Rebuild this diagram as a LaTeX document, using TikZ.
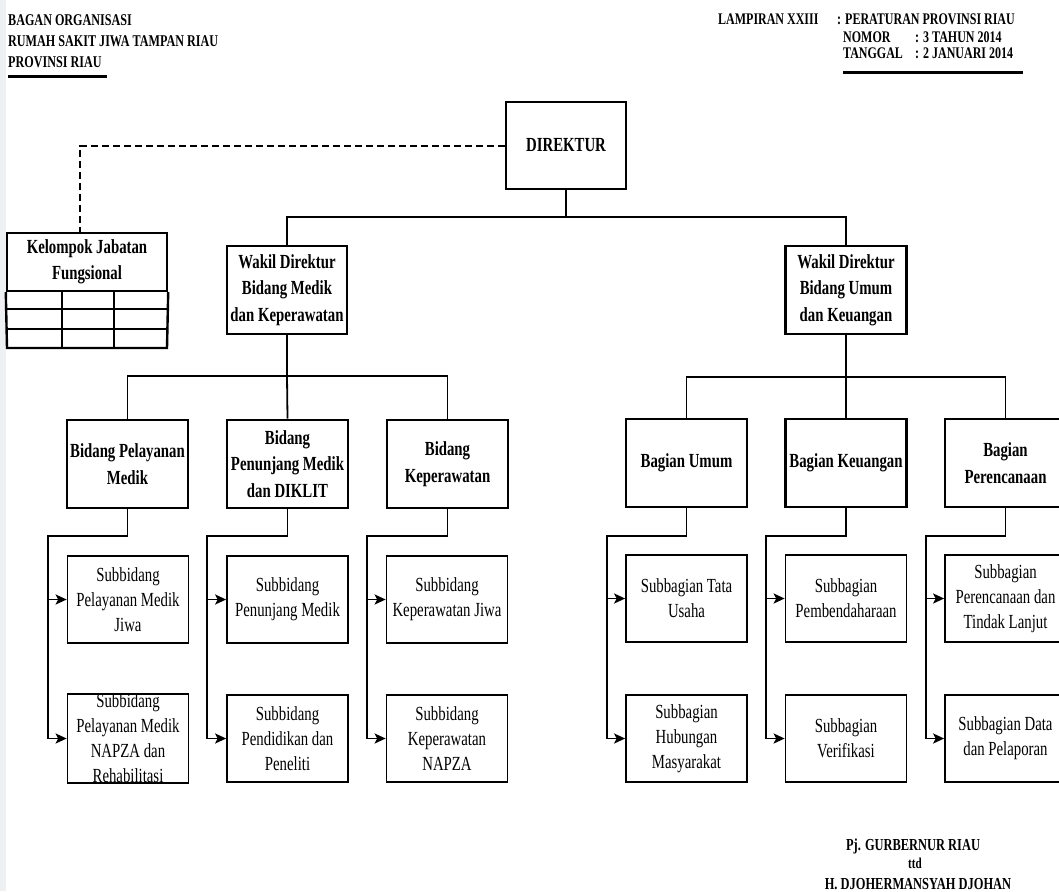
\documentclass[tikz,border=0pt]{standalone}
\usepackage{fontspec}
\setmainfont{Liberation Serif}[FakeStretch=0.74]
\usetikzlibrary{arrows.meta,calc}
\definecolor{strip}{RGB}{239,240,243}
\begin{document}
\begin{tikzpicture}[x=1pt,y=-1pt,
  bigbox/.style={draw, line width=2.7pt, minimum width=121pt, minimum height=88pt, inner sep=0pt, align=center, font=\bfseries\fontsize{20}{26.5}\selectfont},
  subbox/.style={draw, line width=1.7pt, minimum width=121pt, minimum height=87pt, inner sep=0pt, align=center, font=\fontsize{20}{25}\selectfont},
  conn/.style={line width=1.8pt},
  arr/.style={conn, -{Stealth[length=11pt,width=10pt,inset=2.5pt]}},
  dashline/.style={line width=2pt, dash pattern=on 7pt off 4pt},
  hdr/.style={inner sep=0pt, font=\bfseries\fontsize{16.4}{20}\selectfont},
  rhdr/.style={inner sep=0pt, font=\bfseries\fontsize{16.2}{17}\selectfont},
  sig/.style={inner sep=0pt, font=\bfseries\fontsize{16.8}{19}\selectfont, anchor=base}
]
\useasboundingbox (0,0) rectangle (1059,891);
\clip (0,0) rectangle (1059,891);
\fill[white] (0,0) rectangle (1059,891);
\fill[strip] (0,0) rectangle (6,891);

% header left
\node[hdr, anchor=base west] (h1) at (8,26) {BAGAN ORGANISASI};
\node[hdr, anchor=base west] (h2) at (8,47) {RUMAH SAKIT JIWA TAMPAN RIAU};
\node[hdr, anchor=base west] (h3) at (8,67) {PROVINSI RIAU};
\draw[line width=3pt] (8,76) -- (107,76);

% header right
\node[rhdr, anchor=base west] (r1) at (718,25) {LAMPIRAN XXIII};
\node[rhdr, anchor=base west] (r2) at (837,25) {: PERATURAN PROVINSI RIAU};
\node[rhdr, anchor=base west] (r3) at (843,42) {NOMOR};
\node[rhdr, anchor=base west] (r4) at (915,42) {: 3 TAHUN 2014};
\node[rhdr, anchor=base west] (r5) at (843,59) {TANGGAL};
\node[rhdr, anchor=base west] (r6) at (915,59) {: 2 JANUARI 2014};
\draw[line width=3pt] (843,72) -- (1023,72);

% top
\node[bigbox, minimum width=120pt, minimum height=87pt] (dir) at (566,145.5) {DIREKTUR};
\node[bigbox, minimum width=120pt] (wkL) at (287,290) {Wakil Direktur\\Bidang Medik\\dan Keperawatan};
\node[bigbox] (wkR) at (846,290) {Wakil Direktur\\Bidang Umum\\dan Keuangan};

% kelompok jabatan fungsional
\node[draw, line width=2.4pt, minimum width=160pt, minimum height=58pt, inner sep=0pt, align=center,
  font=\bfseries\fontsize{20}{26.5}\selectfont] (kjf) at (87,262) {Kelompok Jabatan\\Fungsional};
\draw[line width=2.4pt] (kjf.south west) -- (7,348) -- (167,348) -- (kjf.south east);
\draw[line width=2.4pt] (7,309) -- (167,309) (7,329) -- (167,329)
  (62,291) -- (62,348) (114,291) -- (114,348);
\coordinate (kjftop) at (80,233);
\draw[dashline] (dir.west) -| (kjftop);

% bidang row
\node[bigbox] (bpm) at (127.5,464) {Bidang Pelayanan\\Medik};
\node[bigbox] (bpn) at (287.5,464) {Bidang\\Penunjang Medik\\dan DIKLIT};
\node[bigbox] (bkp) at (447.5,464) {Bidang\\Keperawatan};
\node[bigbox] (bu) at (686.5,463) {Bagian Umum};
\node[bigbox] (bk) at (846,463) {Bagian Keuangan};
\node[bigbox] (bpr) at (1005.5,463) {Bagian\\Perencanaan};

% sub boxes
\node[subbox] (s11) at (128,599.5) {Subbidang\\Pelayanan Medik\\Jiwa};
\node[subbox] (s12) at (128,738.5) {Subbidang\\Pelayanan Medik\\NAPZA dan\\Rehabilitasi};
\node[subbox] (s21) at (287.5,599.5) {Subbidang\\Penunjang Medik};
\node[subbox] (s22) at (287.5,738.5) {Subbidang\\Pendidikan dan\\Peneliti};
\node[subbox] (s31) at (447,599.5) {Subbidang\\Keperawatan Jiwa};
\node[subbox] (s32) at (447,738.5) {Subbidang\\Keperawatan\\NAPZA};
\node[subbox] (s41) at (686.5,598.5) {Subbagian Tata\\Usaha};
\node[subbox] (s42) at (686.5,738.5) {Subbagian\\Hubungan\\Masyarakat};
\node[subbox] (s51) at (846,598.5) {Subbagian\\Pembendaharaan};
\node[subbox] (s52) at (846,738.5) {Subbagian\\Verifikasi};
\node[subbox] (s61) at (1005.5,598.5) {Subbagian\\Perencanaan dan\\Tindak Lanjut};
\node[subbox] (s62) at (1005.5,738.5) {Subbagian Data\\dan Pelaporan};

% tree connectors
\coordinate (j1) at (566,217);
\draw[conn] (dir.south) -- (j1);
\draw[conn] (wkL.north) |- (j1) -| (wkR.north);
\coordinate (j2) at (287,376);
\draw[conn] (wkL.south) -- (j2);
\draw[conn] (bpm.north) |- (j2) -| (bkp.north);
\draw[conn] (j2) -- (bpn.north);
\coordinate (j3) at (846,377);
\draw[conn] (wkR.south) -- (j3);
\draw[conn] (bu.north) |- (j3) -| (bpr.north);
\draw[conn] (j3) -- (bk.north);

% sub connectors
\foreach \b/\x/\sa/\sb in {bpm/48/s11/s12, bpn/207/s21/s22, bkp/367/s31/s32, bu/607/s41/s42, bk/766/s51/s52, bpr/926/s61/s62}{
  \coordinate (c-\b) at (\x,536);
  \draw[arr] (\b.south) |- (c-\b) |- (\sb.west);
  \draw[arr] (c-\b |- \sa.west) -- (\sa.west);
}

% signature
\node[sig] (g1) at (913,850) {Pj. GURBERNUR RIAU};
\node[sig, font=\bfseries\fontsize{15}{17}\selectfont] (g2) at (915,868) {ttd};
\node[sig] (g3) at (918,889) {H. DJOHERMANSYAH DJOHAN};
\end{tikzpicture}
\end{document}
